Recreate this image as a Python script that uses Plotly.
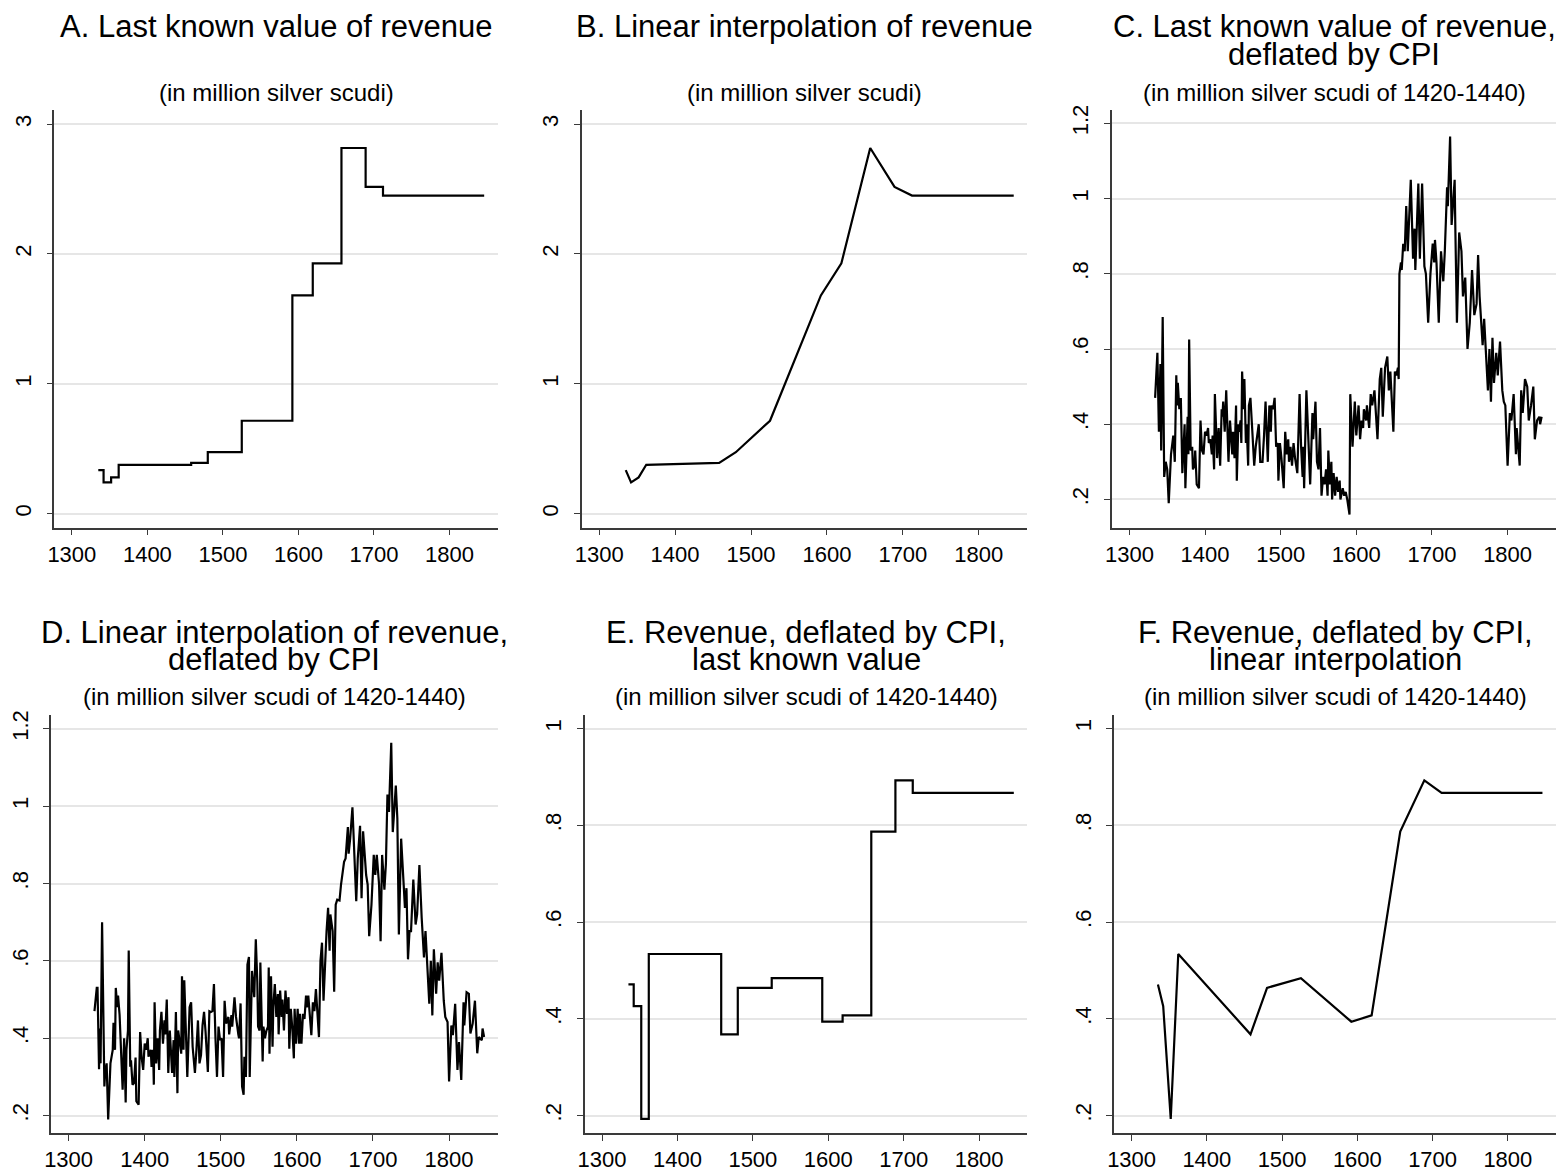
import plotly.graph_objects as go

# ---------------- data ----------------
# observation years of revenue (last entry = end of sample, value carried forward)
obs_years = [1335, 1342, 1352, 1362, 1458, 1480, 1525, 1592, 1619, 1657, 1689, 1712, 1846]
# revenue, million silver scudi
revenue = [0.336, 0.242, 0.280, 0.377, 0.392, 0.474, 0.716, 1.681, 1.928, 2.816, 2.516, 2.450, 2.450]
# revenue deflated by CPI at observation years, million silver scudi of 1420-1440
revenue_real = [0.471, 0.426, 0.193, 0.534, 0.368, 0.464, 0.484, 0.394, 0.407, 0.787, 0.893, 0.867, 0.867]

# Panel C: last known value of revenue deflated by annual CPI
c_years = [1334, 1337, 1339, 1341, 1342, 1344, 1346, 1348, 1350, 1352, 1355, 1358, 1360, 1362, 1363, 1364,
           1366, 1368, 1370, 1373, 1374, 1376, 1377, 1378, 1379, 1381, 1383, 1384, 1386, 1387, 1389, 1392,
           1394, 1396, 1398, 1400, 1402, 1404, 1405, 1407, 1409, 1410, 1412, 1413, 1415, 1416, 1418, 1420,
           1422, 1423, 1424, 1426, 1428, 1429, 1431, 1433, 1436, 1437, 1439, 1441, 1442, 1444, 1445, 1447,
           1448, 1449, 1451, 1452, 1454, 1455, 1457, 1458, 1460, 1462, 1465, 1467, 1469, 1471, 1473, 1476,
           1478, 1480, 1483, 1485, 1487, 1488, 1490, 1492, 1494, 1496, 1497, 1499, 1501, 1504, 1506, 1508,
           1510, 1511, 1513, 1515, 1517, 1519, 1522, 1525, 1527, 1529, 1530, 1531, 1534, 1536, 1539, 1542,
           1543, 1546, 1548, 1550, 1552, 1554, 1556, 1558, 1560, 1562, 1563, 1565, 1567, 1568, 1570, 1572,
           1574, 1576, 1578, 1579, 1582, 1584, 1586, 1588, 1591, 1592, 1595, 1598, 1600, 1603, 1605, 1607,
           1609, 1610, 1613, 1614, 1617, 1619, 1621, 1624, 1628, 1631, 1633, 1635, 1638, 1641, 1643, 1645,
           1649, 1651, 1653, 1655, 1656, 1657, 1659, 1660, 1662, 1664, 1666, 1668, 1672, 1675, 1677, 1678,
           1682, 1684, 1687, 1690, 1692, 1695, 1698, 1701, 1703, 1704, 1706, 1709, 1712, 1715, 1717, 1720,
           1721, 1724, 1726, 1728, 1730, 1731, 1733, 1736, 1739, 1741, 1744, 1747, 1750, 1753, 1756, 1759,
           1761, 1763, 1767, 1769, 1772, 1774, 1776, 1778, 1780, 1782, 1785, 1787, 1790, 1793, 1795, 1797,
           1800, 1803, 1805, 1808, 1811, 1812, 1816, 1818, 1820, 1823, 1826, 1828, 1831, 1834, 1836, 1839,
           1842, 1843, 1845]
c_values = [0.47, 0.59, 0.38, 0.56, 0.33, 0.685, 0.26, 0.30, 0.28, 0.19, 0.32, 0.37, 0.30, 0.53, 0.45, 0.51,
            0.44, 0.47, 0.27, 0.40, 0.23, 0.38, 0.42, 0.32, 0.625, 0.33, 0.34, 0.28, 0.29, 0.33, 0.24, 0.23,
            0.41, 0.33, 0.32, 0.38, 0.37, 0.39, 0.35, 0.36, 0.32, 0.37, 0.28, 0.48, 0.35, 0.31, 0.39, 0.29,
            0.44, 0.42, 0.46, 0.38, 0.49, 0.44, 0.30, 0.41, 0.32, 0.38, 0.31, 0.45, 0.25, 0.40, 0.38, 0.41,
            0.35, 0.54, 0.44, 0.52, 0.35, 0.40, 0.29, 0.45, 0.47, 0.40, 0.29, 0.34, 0.37, 0.40, 0.30, 0.30,
            0.37, 0.46, 0.30, 0.45, 0.38, 0.45, 0.44, 0.47, 0.34, 0.35, 0.25, 0.35, 0.31, 0.23, 0.38, 0.32,
            0.36, 0.30, 0.34, 0.29, 0.35, 0.31, 0.27, 0.48, 0.34, 0.26, 0.34, 0.23, 0.49, 0.38, 0.24, 0.43,
            0.36, 0.46, 0.30, 0.28, 0.39, 0.21, 0.26, 0.24, 0.28, 0.21, 0.33, 0.24, 0.30, 0.20, 0.27, 0.21,
            0.26, 0.22, 0.25, 0.20, 0.23, 0.21, 0.22, 0.20, 0.16, 0.48, 0.34, 0.46, 0.37, 0.45, 0.36, 0.41,
            0.39, 0.44, 0.41, 0.45, 0.39, 0.48, 0.45, 0.49, 0.36, 0.52, 0.55, 0.42, 0.55, 0.58, 0.49, 0.54,
            0.38, 0.54, 0.53, 0.55, 0.52, 0.80, 0.83, 0.81, 0.88, 0.86, 0.98, 0.86, 1.05, 0.84, 0.92, 0.81,
            1.04, 0.84, 1.04, 0.82, 0.80, 0.67, 0.80, 0.88, 0.83, 0.89, 0.83, 0.67, 0.86, 0.78, 0.86, 1.03,
            0.98, 1.165, 0.93, 0.99, 1.05, 0.91, 0.67, 0.91, 0.86, 0.74, 0.79, 0.60, 0.67, 0.81, 0.69, 0.72,
            0.85, 0.74, 0.61, 0.68, 0.55, 0.49, 0.60, 0.46, 0.63, 0.51, 0.59, 0.53, 0.62, 0.49, 0.46, 0.45,
            0.29, 0.43, 0.41, 0.48, 0.32, 0.39, 0.29, 0.49, 0.43, 0.52, 0.50, 0.41, 0.45, 0.50, 0.36, 0.41,
            0.42, 0.40, 0.42]

# Panel D: linearly interpolated revenue deflated by annual CPI
d_years = [1334, 1337, 1338, 1340, 1341, 1342, 1344, 1346, 1347, 1348, 1350, 1352, 1355, 1358, 1359, 1361,
           1362, 1364, 1365, 1367, 1369, 1371, 1373, 1375, 1376, 1378, 1379, 1381, 1382, 1384, 1386, 1388,
           1389, 1392, 1394, 1396, 1398, 1400, 1402, 1404, 1405, 1408, 1409, 1411, 1412, 1413, 1415, 1417,
           1419, 1420, 1422, 1424, 1426, 1427, 1429, 1431, 1433, 1434, 1436, 1438, 1439, 1441, 1443, 1444,
           1446, 1448, 1449, 1451, 1452, 1454, 1456, 1459, 1461, 1463, 1466, 1468, 1470, 1472, 1474, 1476,
           1478, 1480, 1483, 1485, 1487, 1489, 1491, 1493, 1495, 1497, 1499, 1501, 1503, 1505, 1507, 1510,
           1511, 1514, 1515, 1518, 1520, 1523, 1524, 1526, 1528, 1530, 1531, 1533, 1535, 1537, 1538, 1541,
           1542, 1544, 1546, 1548, 1549, 1551, 1552, 1555, 1556, 1558, 1560, 1562, 1563, 1564, 1566, 1568,
           1569, 1571, 1573, 1575, 1576, 1578, 1580, 1581, 1583, 1585, 1587, 1589, 1590, 1592, 1594, 1596,
           1597, 1599, 1601, 1603, 1604, 1606, 1608, 1610, 1612, 1613, 1615, 1617, 1619, 1621, 1623, 1625,
           1627, 1629, 1631, 1633, 1635, 1637, 1639, 1641, 1643, 1644, 1647, 1649, 1651, 1653, 1656, 1658,
           1660, 1662, 1664, 1667, 1668, 1670, 1673, 1675, 1678, 1680, 1683, 1685, 1687, 1691, 1693, 1695,
           1698, 1701, 1703, 1705, 1708, 1710, 1712, 1715, 1717, 1719, 1721, 1724, 1726, 1728, 1730, 1732,
           1734, 1737, 1739, 1742, 1744, 1746, 1748, 1750, 1753, 1756, 1758, 1761, 1764, 1767, 1769, 1772,
           1774, 1776, 1778, 1780, 1783, 1785, 1787, 1790, 1793, 1795, 1798, 1800, 1803, 1805, 1808, 1811,
           1813, 1816, 1819, 1820, 1823, 1826, 1828, 1831, 1834, 1837, 1839, 1843, 1844, 1846]
d_values = [0.47, 0.53, 0.53, 0.32, 0.425, 0.335, 0.70, 0.335, 0.275, 0.31, 0.335, 0.19, 0.335, 0.37, 0.44, 0.37,
            0.53, 0.48, 0.51, 0.46, 0.335, 0.267, 0.40, 0.234, 0.37, 0.42, 0.627, 0.326, 0.343, 0.28, 0.284, 0.35,
            0.237, 0.228, 0.416, 0.35, 0.318, 0.386, 0.37, 0.40, 0.352, 0.37, 0.326, 0.37, 0.28, 0.493, 0.335, 0.40,
            0.318, 0.42, 0.468, 0.386, 0.446, 0.41, 0.50, 0.31, 0.42, 0.37, 0.31, 0.395, 0.30, 0.468, 0.258, 0.42,
            0.395, 0.36, 0.56, 0.37, 0.55, 0.386, 0.30, 0.48, 0.493, 0.378, 0.31, 0.37, 0.446, 0.335, 0.356, 0.433,
            0.468, 0.416, 0.313, 0.47, 0.468, 0.47, 0.54, 0.40, 0.30, 0.43, 0.395, 0.40, 0.30, 0.497, 0.438, 0.455,
            0.41, 0.46, 0.43, 0.506, 0.455, 0.41, 0.40, 0.49, 0.275, 0.254, 0.352, 0.30, 0.59, 0.61, 0.30, 0.574,
            0.557, 0.506, 0.656, 0.545, 0.43, 0.42, 0.596, 0.34, 0.43, 0.40, 0.42, 0.43, 0.583, 0.36, 0.56, 0.378,
            0.48, 0.54, 0.455, 0.514, 0.41, 0.523, 0.455, 0.50, 0.42, 0.523, 0.463, 0.506, 0.373, 0.476, 0.425, 0.348,
            0.476, 0.386, 0.476, 0.386, 0.463, 0.386, 0.463, 0.45, 0.51, 0.48, 0.51, 0.455, 0.408, 0.493, 0.47, 0.527,
            0.455, 0.403, 0.60, 0.647, 0.497, 0.61, 0.677, 0.737, 0.626, 0.72, 0.677, 0.52, 0.745, 0.758, 0.756, 0.797,
            0.826, 0.856, 0.865, 0.946, 0.877, 0.916, 0.997, 0.89, 0.754, 0.865, 0.949, 0.762, 0.935, 0.822, 0.797, 0.664,
            0.745, 0.874, 0.822, 0.874, 0.797, 0.651, 0.874, 0.784, 0.852, 1.03, 0.985, 1.164, 0.933, 0.99, 1.053, 0.968,
            0.668, 0.916, 0.848, 0.737, 0.788, 0.604, 0.677, 0.677, 0.81, 0.694, 0.72, 0.848, 0.711, 0.609, 0.677, 0.54,
            0.489, 0.60, 0.459, 0.63, 0.515, 0.596, 0.549, 0.621, 0.497, 0.455, 0.442, 0.288, 0.433, 0.408, 0.489, 0.318,
            0.39, 0.292, 0.493, 0.433, 0.519, 0.515, 0.412, 0.438, 0.497, 0.361, 0.403, 0.395, 0.425, 0.403]

x_ticks = [1300, 1400, 1500, 1600, 1700, 1800]
y_ticks_nominal = [0, 1, 2, 3]
y_ticktext_nominal = ["0", "1", "2", "3"]
y_ticks_cd = [0.2, 0.4, 0.6, 0.8, 1.0, 1.2]
y_ticktext_cd = [".2", ".4", ".6", ".8", "1", "1.2"]
y_ticks_ef = [0.2, 0.4, 0.6, 0.8, 1.0]
y_ticktext_ef = [".2", ".4", ".6", ".8", "1"]

titles = [
    ["A. Last known value of revenue"],
    ["B. Linear interpolation of revenue"],
    ["C. Last known value of revenue,", "deflated by CPI"],
    ["D. Linear interpolation of revenue,", "deflated by CPI"],
    ["E. Revenue, deflated by CPI,", "last known value"],
    ["F. Revenue, deflated by CPI,", "linear interpolation"],
]
subtitles = [
    "(in million silver scudi)",
    "(in million silver scudi)",
    "(in million silver scudi of 1420-1440)",
    "(in million silver scudi of 1420-1440)",
    "(in million silver scudi of 1420-1440)",
    "(in million silver scudi of 1420-1440)",
]

# ---------------- layout geometry (pixels) ----------------
W, H = 1556, 1172
FONT = "Liberation Sans, Arial, Helvetica, sans-serif"
panel_px = [  # x0, x1, ytop, ybottom
    (47.7, 493, 106, 526.7),
    (577.3, 1025, 106, 526.7),
    (1110, 1556, 106, 526.7),
    (44.3, 493, 715, 1136.7),
    (580.3, 1025, 715, 1136.7),
    (1112.3, 1556, 715, 1136.7),
]
y_ranges = [(-0.107, 3.107), (-0.107, 3.107), (0.125, 1.235), (0.155, 1.237), (0.164, 1.029), (0.164, 1.029)]
y_tick_sets = [(y_ticks_nominal, y_ticktext_nominal)] * 2 + [(y_ticks_cd, y_ticktext_cd)] * 2 + \
              [(y_ticks_ef, y_ticktext_ef)] * 2
title_rows = [(22, 50, 88)] * 3 + [(632, 660, 697)] * 3

series = [
    (obs_years, revenue, "hv"),
    (obs_years, revenue, "linear"),
    (c_years, c_values, "linear"),
    (d_years, d_values, "linear"),
    (obs_years, revenue_real, "hv"),
    (obs_years, revenue_real, "linear"),
]

fig = go.Figure()
annotations = []
for i, (xs, ys, shape) in enumerate(series):
    n = "" if i == 0 else str(i + 1)
    fig.add_trace(go.Scatter(x=xs, y=ys, mode="lines", line=dict(color="black", width=2.2, shape=shape),
                             xaxis="x" + n, yaxis="y" + n, showlegend=False, hoverinfo="x+y"))
    x0, x1, yt, yb = panel_px[i]
    dom_x = [x0 / W, min(x1 / W, 1.0)]
    dom_y = [1 - yb / H, 1 - yt / H]
    tv, tt = y_tick_sets[i]
    fig.update_layout(**{
        "xaxis" + n: dict(domain=dom_x, anchor="y" + n, range=[1277, 1864], tickvals=x_ticks,
                          showgrid=False, zeroline=False, showline=True, linecolor="#3a3a3a", linewidth=1.6,
                          ticks="outside", ticklen=6, tickwidth=1.4, tickcolor="#3a3a3a",
                          tickfont=dict(size=22, color="black", family=FONT)),
        "yaxis" + n: dict(domain=dom_y, anchor="x" + n, range=list(y_ranges[i]), tickvals=tv, ticktext=tt,
                          showgrid=True, gridcolor="#e6e6e6", gridwidth=2, zeroline=False,
                          showline=True, linecolor="#3a3a3a", linewidth=1.6,
                          ticks="outside", ticklen=6, tickwidth=1.4, tickcolor="#3a3a3a", tickangle=-90,
                          ticklabelstandoff=7,
                          tickfont=dict(size=22, color="black", family=FONT)),
    })
    cx = (x0 + min(x1, W)) / 2 / W
    ty1, ty2, tys = title_rows[i]
    lines = titles[i]
    pos = [ty1] if len(lines) == 1 else [ty1, ty2]
    for line, py in zip(lines, pos):
        annotations.append(dict(text=line, x=cx, y=1 - py / H, xref="paper", yref="paper",
                                xanchor="center", yanchor="middle", showarrow=False,
                                font=dict(size=31, color="black", family=FONT)))
    annotations.append(dict(text=subtitles[i], x=cx, y=1 - tys / H, xref="paper", yref="paper",
                            xanchor="center", yanchor="middle", showarrow=False,
                            font=dict(size=24, color="black", family=FONT)))

fig.update_layout(width=W, height=H, margin=dict(l=0, r=0, t=0, b=0, pad=0),
                  paper_bgcolor="white", plot_bgcolor="white", annotations=annotations,
                  font=dict(family=FONT, color="black"))

fig.write_html("out.html", config={"displayModeBar": False},
               post_script="document.body.style.margin='0px';document.body.style.overflow='hidden';")
